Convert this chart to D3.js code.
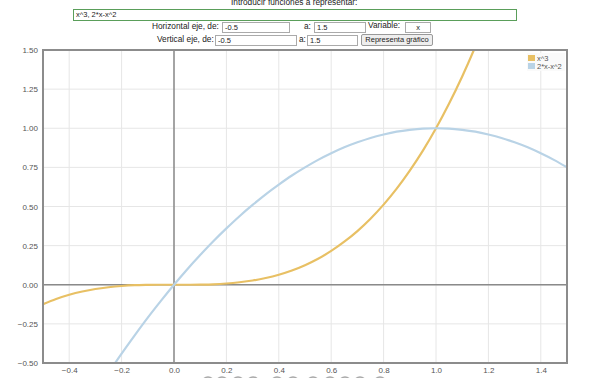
<!DOCTYPE html>
<html>
<head>
<meta charset="utf-8">
<script src="https://cdnjs.cloudflare.com/ajax/libs/d3/7.8.5/d3.min.js"></script>
<style>
body { margin: 0; width: 600px; height: 378px; overflow: hidden; background: #fff; font-family: "Liberation Sans", Arial, sans-serif; font-size: 8.3px; color: #222; }
.lbl { position: absolute; white-space: nowrap; line-height: 10px; }
.inp { position: absolute; box-sizing: border-box; border: 1px solid #aaa; height: 11px; font-size: 7.5px; line-height: 9px; padding: 0 2px; background: #fff; color: #222; white-space: nowrap; overflow: hidden; }
.btn { position: absolute; box-sizing: border-box; border: 1px solid #999; background: #eee; font-size: 7.5px; line-height: 10px; text-align: center; height: 12px; border-radius: 2px; }
#chart { position: absolute; left: 0; top: 0; }
</style>
</head>
<body>
<div class="lbl" style="left:231px;top:-3px;">Introducir funciones a representar:</div>
<div class="inp" style="left:73px;top:9px;width:444px;height:12px;border-color:#5a9e5a;">x^3, 2*x-x^2</div>
<div class="lbl" style="left:152px;top:21px;">Horizontal eje, de:</div>
<div class="inp" style="left:222px;top:22px;width:68px;">-0.5</div>
<div class="lbl" style="left:304px;top:21px;">a:</div>
<div class="inp" style="left:314px;top:22px;width:52px;">1.5</div>
<div class="lbl" style="left:368px;top:20px;">Variable:</div>
<div class="inp" style="left:405px;top:22px;width:26px;text-align:center;">x</div>
<div class="lbl" style="left:157px;top:34px;">Vertical eje, de:</div>
<div class="inp" style="left:215px;top:35px;width:82px;">-0.5</div>
<div class="lbl" style="left:299px;top:34px;">a:</div>
<div class="inp" style="left:307px;top:35px;width:51px;">1.5</div>
<div class="btn" style="left:361px;top:34px;width:72px;">Representa gráfico</div>
<svg id="chart" width="600" height="378"></svg>
<script>
// valores
var xs = [-0.5, -0.45, -0.4, -0.35, -0.3, -0.25, -0.2, -0.15, -0.1, -0.05, 0, 0.05, 0.1, 0.15, 0.2, 0.25, 0.3, 0.35, 0.4, 0.45, 0.5,
          0.55, 0.6, 0.65, 0.7, 0.75, 0.8, 0.85, 0.9, 0.95, 1.0, 1.05, 1.1, 1.15, 1.2, 1.25, 1.3, 1.35, 1.4, 1.45, 1.5];
var cubo = [-0.125, -0.091, -0.064, -0.043, -0.027, -0.016, -0.008, -0.003, -0.001, 0, 0, 0, 0.001, 0.003, 0.008, 0.016, 0.027, 0.043, 0.064, 0.091, 0.125,
            0.166, 0.216, 0.275, 0.343, 0.422, 0.512, 0.614, 0.729, 0.857, 1.0, 1.158, 1.331, 1.521, 1.728, 1.953, 2.197, 2.46, 2.744, 3.049, 3.375];
var parab = [-1.25, -1.103, -0.96, -0.823, -0.69, -0.563, -0.44, -0.323, -0.21, -0.103, 0, 0.098, 0.19, 0.278, 0.36, 0.438, 0.51, 0.578, 0.64, 0.698, 0.75,
             0.798, 0.84, 0.878, 0.91, 0.938, 0.96, 0.978, 0.99, 0.998, 1.0, 0.998, 0.99, 0.978, 0.96, 0.938, 0.91, 0.878, 0.84, 0.798, 0.75];
var seriesNames = ["x^3", "2*x-x^2"];
var seriesColors = ["#e8c064", "#b9d3e6"];
var xTicks = [-0.4, -0.2, 0.0, 0.2, 0.4, 0.6, 0.8, 1.0, 1.2, 1.4];
var yTicks = [-0.5, -0.25, 0, 0.25, 0.5, 0.75, 1.0, 1.25, 1.5];

var pLeft = 43, pRight = 567, pTop = 50, pBottom = 363;
var svg = d3.select("#chart");

var x = d3.scaleLinear().domain([-0.5, 1.5]).range([pLeft, pRight]);
var y = d3.scaleLinear().domain([-0.5, 1.5]).range([pBottom, pTop]);

svg.append("defs").append("clipPath").attr("id", "clip")
    .append("rect").attr("x", pLeft).attr("y", pTop).attr("width", pRight - pLeft).attr("height", pBottom - pTop);

// rejilla
svg.append("g").selectAll("line").data(xTicks).enter().append("line")
    .attr("x1", function (d) { return x(d); }).attr("x2", function (d) { return x(d); })
    .attr("y1", pTop).attr("y2", pBottom)
    .attr("stroke", "#e6e6e6").attr("stroke-width", 1);
svg.append("g").selectAll("line").data(yTicks).enter().append("line")
    .attr("x1", pLeft).attr("x2", pRight)
    .attr("y1", function (d) { return y(d); }).attr("y2", function (d) { return y(d); })
    .attr("stroke", "#e6e6e6").attr("stroke-width", 1);

// ejes en cero
svg.append("line").attr("x1", x(0)).attr("x2", x(0)).attr("y1", pTop).attr("y2", pBottom)
    .attr("stroke", "#8a8a8a").attr("stroke-width", 1.5);
svg.append("line").attr("x1", pLeft).attr("x2", pRight).attr("y1", y(0)).attr("y2", y(0))
    .attr("stroke", "#8a8a8a").attr("stroke-width", 1.5);

// curvas
var series = [cubo, parab];
var line = d3.line().curve(d3.curveCatmullRom)
    .x(function (d, i) { return x(xs[i]); })
    .y(function (d) { return y(d); });
var g = svg.append("g").attr("clip-path", "url(#clip)");
series.forEach(function (s, k) {
    g.append("path").datum(s)
        .attr("d", line)
        .attr("fill", "none")
        .attr("stroke", seriesColors[k])
        .attr("stroke-width", 2.2);
});

// marco
svg.append("rect").attr("x", pLeft).attr("y", pTop).attr("width", pRight - pLeft).attr("height", pBottom - pTop)
    .attr("fill", "none").attr("stroke", "#8c8c8c").attr("stroke-width", 2);

// etiquetas
var yAxis = d3.axisLeft(y).tickValues(yTicks).tickFormat(d3.format(".2f")).tickSize(0).tickPadding(5);
svg.append("g").attr("transform", "translate(" + pLeft + ",0)").call(yAxis)
    .call(function (a) { a.select(".domain").remove(); })
    .selectAll("text").attr("fill", "#555").style("font-size", "8px").style("font-family", "Liberation Sans, Arial, sans-serif");

var xAxis = d3.axisBottom(x).tickValues(xTicks).tickFormat(d3.format(".1f")).tickSize(0).tickPadding(4);
svg.append("g").attr("transform", "translate(0," + pBottom + ")").call(xAxis)
    .call(function (a) { a.select(".domain").remove(); })
    .selectAll("text").attr("fill", "#555").style("font-size", "8px").style("font-family", "Liberation Sans, Arial, sans-serif");

// leyenda
var leg = svg.append("g").attr("transform", "translate(527,53)");
leg.append("rect").attr("x", 0).attr("y", 0).attr("width", 38).attr("height", 18).attr("fill", "#fafafa").attr("opacity", 0.9);
seriesNames.forEach(function (n, k) {
    leg.append("rect").attr("x", 1).attr("y", 2 + k * 8).attr("width", 7).attr("height", 6).attr("fill", seriesColors[k]);
    leg.append("text").attr("x", 10).attr("y", 8 + k * 8).text(n)
        .attr("fill", "#555").style("font-size", "7.5px").style("font-family", "Liberation Sans, Arial, sans-serif");
});

// texto cortado abajo
var dots = [208, 222, 238, 253, 277, 293, 313, 330, 345, 360, 380];
svg.append("g").selectAll("ellipse").data(dots).enter().append("ellipse")
    .attr("cx", function (d) { return d; }).attr("cy", 383).attr("rx", 6).attr("ry", 6)
    .attr("fill", "#ddd").attr("stroke", "#aaa").attr("stroke-width", 1.5);
</script>
</body>
</html>
